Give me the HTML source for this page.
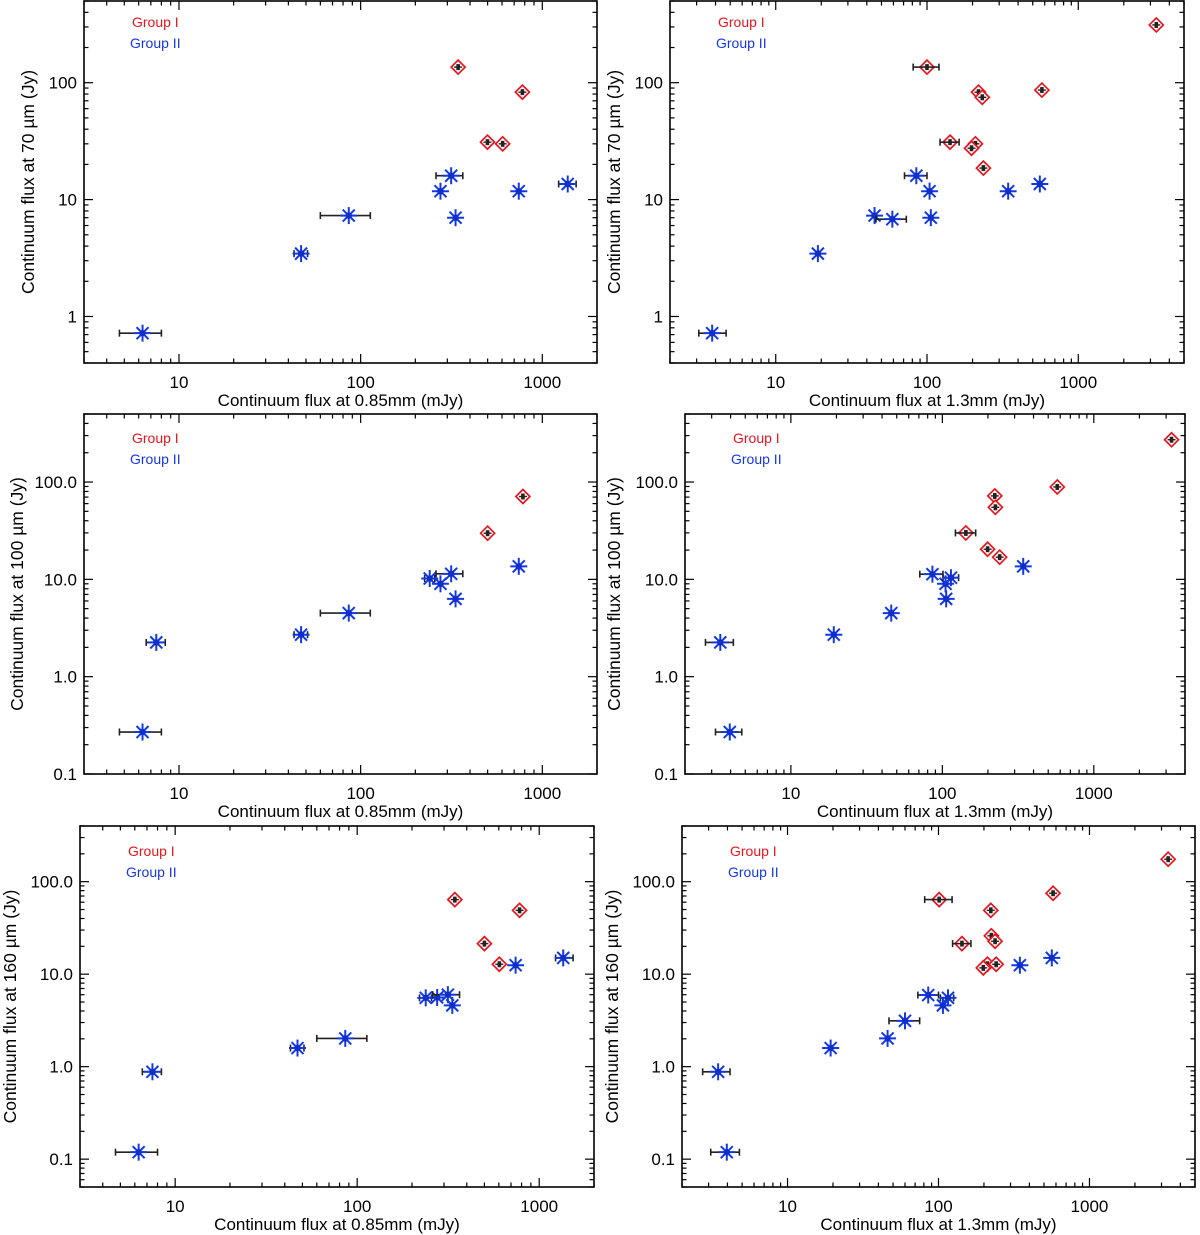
<!DOCTYPE html>
<html><head><meta charset="utf-8">
<style>
html,body{margin:0;padding:0;background:#fff;}
svg{display:block;font-family:"Liberation Sans",Helvetica,Arial,sans-serif;}
</style></head>
<body>
<svg id="fig" width="1200" height="1235" viewBox="0 0 1200 1235" xmlns="http://www.w3.org/2000/svg"></svg>
<script>
// ---- Panel 1: 70um vs 0.85mm ----
const p1RedX = [344, 777, 499, 605];
const p1RedY = [136, 83, 31, 30];
const p1BlueX = [6.3, 47, 86, 275, 315, 333, 742, 1380];
const p1BlueY = [0.72, 3.45, 7.3, 11.8, 16, 7.0, 11.8, 13.6];
const p1BlueXLo = [4.7, 43, 60, null, 260, null, null, 1230];
const p1BlueXHi = [8.0, 51, 113, null, 365, null, null, 1535];
const p1RedXLo = [null, null, null, null];
const p1RedXHi = [null, null, null, null];
// ---- Panel 2: 70um vs 1.3mm ----
const p2RedX = [3280, 100, 219, 232, 575, 142, 209, 197, 236];
const p2RedY = [312, 136, 83, 75, 86.5, 31, 30, 27.5, 18.6];
const p2RedXLo = [null, 81, null, null, null, 122, null, null, null];
const p2RedXHi = [null, 120, null, null, null, 163, null, null, null];
const p2BlueX = [3.8, 19, 45, 59, 85, 104, 106, 344, 557];
const p2BlueY = [0.72, 3.45, 7.3, 6.8, 16, 11.8, 7.0, 11.8, 13.6];
const p2BlueXLo = [3.1, null, null, 46, 71, null, null, null, null];
const p2BlueXHi = [4.7, null, null, 73, 100, null, null, null, null];
// ---- Panel 3: 100um vs 0.85mm ----
const p3RedX = [782, 500];
const p3RedY = [71, 29.8];
const p3RedXLo = [null, null];
const p3RedXHi = [null, null];
const p3BlueX = [6.3, 7.5, 47, 86, 240, 275, 315, 333, 742];
const p3BlueY = [0.27, 2.25, 2.7, 4.5, 10.2, 9.0, 11.4, 6.3, 13.6];
const p3BlueXLo = [4.7, 6.6, 43, 60, 225, null, 260, null, null];
const p3BlueXHi = [8.0, 8.4, 51, 113, 256, null, 365, null, null];
// ---- Panel 4: 100um vs 1.3mm ----
const p4RedX = [3260, 574, 222, 224, 143, 199, 239];
const p4RedY = [272, 89, 72, 55, 30, 20.4, 16.9];
const p4RedXLo = [null, null, null, null, 122, null, null];
const p4RedXHi = [null, null, null, null, 166, null, null];
const p4BlueX = [3.42, 3.95, 19.2, 46, 86, 105, 114, 106, 342];
const p4BlueY = [2.25, 0.27, 2.7, 4.5, 11.3, 9.0, 10.4, 6.3, 13.6];
const p4BlueXLo = [2.73, 3.18, null, null, 71, null, 101, null, null];
const p4BlueXHi = [4.17, 4.74, null, null, 101, null, 128, null, null];
// ---- Panel 5: 160um vs 0.85mm ----
const p5RedX = [344, 780, 500, 604];
const p5RedY = [64, 49, 21.4, 12.8];
const p5RedXLo = [null, null, null, null];
const p5RedXHi = [null, null, null, null];
const p5BlueX = [6.3, 7.5, 47, 86, 238, 275, 315, 333, 742, 1355];
const p5BlueY = [0.119, 0.88, 1.59, 2.02, 5.55, 5.6, 6.0, 4.6, 12.5, 15.0];
const p5BlueXLo = [4.7, 6.6, 43, 60, 220, null, 260, null, null, 1230];
const p5BlueXHi = [8.0, 8.4, 51, 113, 256, null, 365, null, null, 1535];
// ---- Panel 6: 160um vs 1.3mm ----
const p6RedX = [3320, 574, 101, 222, 224, 237, 143, 211, 198, 241];
const p6RedY = [175, 75, 64, 49, 26, 22.7, 21.4, 12.8, 11.7, 12.8];
const p6RedXLo = [null, null, 81, null, null, null, 124, null, null, null];
const p6RedXHi = [null, null, 123, null, null, null, 164, null, null, null];
const p6BlueX = [3.47, 3.96, 19.3, 46, 60, 85.5, 115.6, 107, 346, 563];
const p6BlueY = [0.88, 0.119, 1.59, 2.02, 3.13, 5.95, 5.55, 4.6, 12.5, 15.0];
const p6BlueXLo = [2.74, 3.1, null, null, 47, 73, 103, null, null, null];
const p6BlueXHi = [4.16, 4.8, null, null, 75, 100, 126, null, null, null];

const xTicks = [10, 100, 1000];
const xTickLabels = ["10", "100", "1000"];
const yTicksTop = [1, 10, 100];
const yTickLabelsTop = ["1", "10", "100"];
const yTicksMid = [0.1, 1, 10, 100];
const yTickLabelsMid = ["0.1", "1.0", "10.0", "100.0"];

const NS = "http://www.w3.org/2000/svg";
const svg = document.getElementById('fig');
function mk(tag, attrs, parent){
  const e = document.createElementNS(NS, tag);
  for (const k in attrs) e.setAttribute(k, attrs[k]);
  (parent||svg).appendChild(e);
  return e;
}
const BLUE = "#1438e6", RED = "#e8141e";

function panel(cfg){
  const g = mk('g', {});
  
  
  const [L,T,R,B] = cfg.box;
  const lx0 = Math.log10(cfg.xr[0]), lx1 = Math.log10(cfg.xr[1]);
  const ly0 = Math.log10(cfg.yr[0]), ly1 = Math.log10(cfg.yr[1]);
  const sx = v => L + (Math.log10(v)-lx0)/(lx1-lx0)*(R-L);
  const sy = v => B - (Math.log10(v)-ly0)/(ly1-ly0)*(B-T);
  // box
  const box = mk('rect', {x:L, y:T, width:R-L, height:B-T, fill:'none', stroke:'#000', 'stroke-width':1.6}, g);
  
  
  // x ticks
  const xa = mk('g', {}, g);
  
  
  for (let e = Math.floor(lx0); e <= Math.ceil(lx1); e++){
    for (let m = 1; m <= 9; m++){
      const v = m*Math.pow(10,e);
      if (v < cfg.xr[0]*0.999 || v > cfg.xr[1]*1.001) continue;
      const x = sx(v), len = m===1 ? 9 : 4.5;
      mk('line', {x1:x, x2:x, y1:B, y2:B-len, stroke:'#000', 'stroke-width':1.2}, xa);
      mk('line', {x1:x, x2:x, y1:T, y2:T+len, stroke:'#000', 'stroke-width':1.2}, xa);
    }
  }
  xTicks.forEach((v,i)=>{
    const t = mk('text', {x:sx(v), y:B+25, 'font-size':17, 'text-anchor':'middle', fill:'#000'}, xa);
    t.textContent = xTickLabels[i];
    
    
  });
  const xt = mk('text', {x:(L+R)/2, y:B+43, 'font-size':17, 'text-anchor':'middle', fill:'#000'}, xa);
  xt.textContent = cfg.xlabel;
  
  
  // y ticks
  const ya = mk('g', {}, g);
  
  
  for (let e = Math.floor(ly0); e <= Math.ceil(ly1); e++){
    for (let m = 1; m <= 9; m++){
      const v = m*Math.pow(10,e);
      if (v < cfg.yr[0]*0.999 || v > cfg.yr[1]*1.001) continue;
      const y = sy(v), len = m===1 ? 9 : 4.5;
      mk('line', {x1:L, x2:L+len, y1:y, y2:y, stroke:'#000', 'stroke-width':1.2}, ya);
      mk('line', {x1:R, x2:R-len, y1:y, y2:y, stroke:'#000', 'stroke-width':1.2}, ya);
    }
  }
  cfg.yticks.forEach((v,i)=>{
    const t = mk('text', {x:L-7, y:sy(v)+6, 'font-size':17, 'text-anchor':'end', fill:'#000'}, ya);
    t.textContent = cfg.yticklabels[i];
    
    
  });
  const cy = (T+B)/2;
  const yt = mk('text', {x:cfg.ytx, y:cy, 'font-size':17.5, 'text-anchor':'middle', fill:'#000', transform:`rotate(-90 ${cfg.ytx} ${cy})`, 'dominant-baseline':'central'}, ya);
  yt.textContent = cfg.ylabel;
  
  
  // legend
  const lg = mk('g', {}, g);
  
  
  const l1 = mk('text', {x:L+48, y:T+cfg.legdy, 'font-size':14, fill:RED}, lg);
  l1.textContent = 'Group I';
  
  
  const l2 = mk('text', {x:L+46, y:T+cfg.legdy+21, 'font-size':14, fill:BLUE}, lg);
  l2.textContent = 'Group II';
  
  
  // error bars helper
  function xerr(par, x0, x1, y){
    const a = sx(x0), b = sx(x1);
    mk('line', {x1:a, x2:b, y1:y, y2:y, stroke:'#222', 'stroke-width':1.6}, par);
    mk('line', {x1:a, x2:a, y1:y-3.5, y2:y+3.5, stroke:'#222', 'stroke-width':1.6}, par);
    mk('line', {x1:b, x2:b, y1:y-3.5, y2:y+3.5, stroke:'#222', 'stroke-width':1.6}, par);
  }
  // blue series
  const bs = mk('g', {}, g);
  
  
  cfg.bx.forEach((v,i)=>{
    const x = sx(v), y = sy(cfg.by[i]);
    const pg = mk('g', {}, bs);
    
    
    if (cfg.bxlo[i] != null) xerr(pg, cfg.bxlo[i], cfg.bxhi[i], y);
    const r = 8.5;
    for (let k = 0; k < 4; k++){
      const a = k*Math.PI/4;
      mk('line', {x1:x-r*Math.cos(a), y1:y-r*Math.sin(a), x2:x+r*Math.cos(a), y2:y+r*Math.sin(a), stroke:BLUE, 'stroke-width':2}, pg);
    }
    mk('circle', {cx:x, cy:y, r:3.2, fill:'#0f2fc8'}, pg);
  });
  // red series
  const rs = mk('g', {}, g);
  
  
  cfg.rx.forEach((v,i)=>{
    const x = sx(v), y = sy(cfg.ry[i]);
    const pg = mk('g', {}, rs);
    
    
    const d = 7;
    mk('path', {d:`M${x} ${y-d}L${x+d} ${y}L${x} ${y+d}L${x-d} ${y}Z`, fill:'#fff', stroke:RED, 'stroke-width':1.7}, pg);
    if (cfg.rxlo[i] != null) xerr(pg, cfg.rxlo[i], cfg.rxhi[i], y);
    else {
      mk('line', {x1:x-4, x2:x+4, y1:y, y2:y, stroke:'#222', 'stroke-width':1.4}, pg);
    }
    mk('rect', {x:x-1.8, y:y-3, width:3.6, height:6, fill:'#222'}, pg);
  });
}

const lab70 = "Continuum flux at 70 \u00b5m (Jy)";
const lab100 = "Continuum flux at 100 \u00b5m (Jy)";
const lab160 = "Continuum flux at 160 \u00b5m (Jy)";
const x085 = "Continuum flux at 0.85mm (mJy)";
const x13 = "Continuum flux at 1.3mm (mJy)";

panel({name:'panel-70um-vs-0.85mm', box:[84,1,597,363], xr:[3,2000], yr:[0.4,500], yticks:yTicksTop, yticklabels:yTickLabelsTop, ytx:28, ylabel:lab70, xlabel:x085, legdy:26,
  rx:p1RedX, ry:p1RedY, rxlo:p1RedXLo, rxhi:p1RedXHi, bx:p1BlueX, by:p1BlueY, bxlo:p1BlueXLo, bxhi:p1BlueXHi});
panel({name:'panel-70um-vs-1.3mm', box:[670,1,1184,363], xr:[2,5000], yr:[0.4,500], yticks:yTicksTop, yticklabels:yTickLabelsTop, ytx:614, ylabel:lab70, xlabel:x13, legdy:26,
  rx:p2RedX, ry:p2RedY, rxlo:p2RedXLo, rxhi:p2RedXHi, bx:p2BlueX, by:p2BlueY, bxlo:p2BlueXLo, bxhi:p2BlueXHi});
panel({name:'panel-100um-vs-0.85mm', box:[84,414,597,774], xr:[3,2000], yr:[0.1,500], yticks:yTicksMid, yticklabels:yTickLabelsMid, ytx:17, ylabel:lab100, xlabel:x085, legdy:29,
  rx:p3RedX, ry:p3RedY, rxlo:p3RedXLo, rxhi:p3RedXHi, bx:p3BlueX, by:p3BlueY, bxlo:p3BlueXLo, bxhi:p3BlueXHi});
panel({name:'panel-100um-vs-1.3mm', box:[685,414,1185,774], xr:[2,4000], yr:[0.1,500], yticks:yTicksMid, yticklabels:yTickLabelsMid, ytx:614, ylabel:lab100, xlabel:x13, legdy:29,
  rx:p4RedX, ry:p4RedY, rxlo:p4RedXLo, rxhi:p4RedXHi, bx:p4BlueX, by:p4BlueY, bxlo:p4BlueXLo, bxhi:p4BlueXHi});
panel({name:'panel-160um-vs-0.85mm', box:[80,826,594,1187], xr:[3,2000], yr:[0.05,400], yticks:yTicksMid, yticklabels:yTickLabelsMid, ytx:10, ylabel:lab160, xlabel:x085, legdy:30,
  rx:p5RedX, ry:p5RedY, rxlo:p5RedXLo, rxhi:p5RedXHi, bx:p5BlueX, by:p5BlueY, bxlo:p5BlueXLo, bxhi:p5BlueXHi});
panel({name:'panel-160um-vs-1.3mm', box:[682,826,1195,1187], xr:[2,5000], yr:[0.05,400], yticks:yTicksMid, yticklabels:yTickLabelsMid, ytx:612, ylabel:lab160, xlabel:x13, legdy:30,
  rx:p6RedX, ry:p6RedY, rxlo:p6RedXLo, rxhi:p6RedXHi, bx:p6BlueX, by:p6BlueY, bxlo:p6BlueXLo, bxhi:p6BlueXHi});
</script>
</body></html>
